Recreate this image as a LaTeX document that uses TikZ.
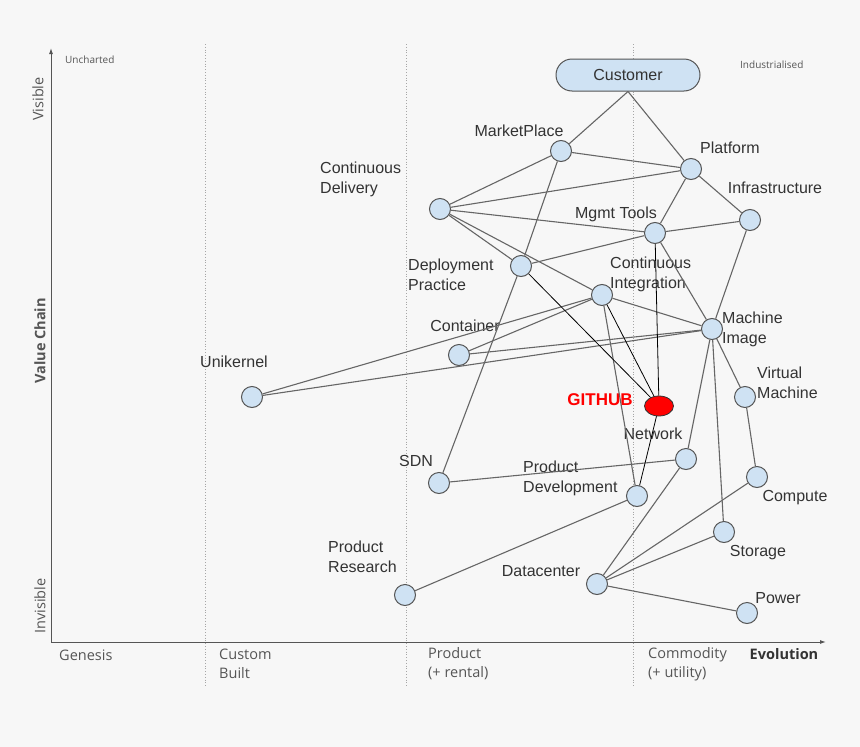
\documentclass[tikz,border=0pt]{standalone}
\usepackage{fontspec}
\setmainfont{Liberation Sans}
\newfontfamily\axisfont{Open Sans}
\usetikzlibrary{arrows.meta,positioning,shapes.geometric}
\definecolor{bgcol}{HTML}{F7F7F7}
\definecolor{nodefill}{HTML}{CFE2F3}
\definecolor{edgecol}{HTML}{666666}
\definecolor{txtcol}{HTML}{333333}
\definecolor{axiscol}{HTML}{555555}

\begin{document}
\begin{tikzpicture}[x=1pt,y=-1pt,
  comp/.style={circle,draw=axiscol,fill=nodefill,line width=1pt,minimum size=21pt,inner sep=0pt},
  lbl/.style={text=txtcol,font=\fontsize{16}{20}\selectfont,inner sep=0pt},
  lbll/.style={lbl,align=left,anchor=west},
  axlbl/.style={text=axiscol,font=\axisfont\fontsize{14.5}{19}\selectfont,inner sep=0pt,align=left},
  link/.style={draw=edgecol,line width=1.1pt},
  hub/.style={draw=black,line width=0.8pt},
  stage/.style={draw=gray!70,dotted,line width=0.8pt}]
  \fill[bgcol] (0,0) rectangle (860,747);
  \useasboundingbox (0,0) rectangle (860,747);

  % stages of evolution
  \draw[stage] (205,44) -- (205,686);
  \draw[stage] (406,44) -- (406,686);
  \draw[stage] (633,44) -- (633,686);

  % axes
  \draw[axiscol,line width=1pt,-{Latex[length=6pt,width=4pt]}] (51,642) -- (51,48);
  \draw[axiscol,line width=1pt,-{Latex[length=6pt,width=4pt]}] (51,642) -- (826,642);
  \node[axlbl,rotate=90] (vis) at (38,99) {Visible};
  \node[axlbl,rotate=90,font=\axisfont\bfseries\fontsize{14.5}{19}\selectfont] (vchain) at (40,341) {Value Chain};
  \node[axlbl,rotate=90] (invis) at (40,606) {Invisible};
  \node[axlbl,anchor=west] (gen) at (59,655) {Genesis};
  \node[axlbl,anchor=west] (cust) at (219,664) {Custom\\Built};
  \node[axlbl,anchor=west] (prod) at (428,664) {Product\\(+ rental)};
  \node[axlbl,anchor=west] (commod) at (648,664) {Commodity\\(+ utility)};
  \node[axlbl,font=\axisfont\bfseries\fontsize{14.5}{19}\selectfont,text=black!80] (evo) at (784,654) {Evolution};
  \node[axlbl,anchor=west,font=\axisfont\fontsize{10}{12}\selectfont] (unch) at (65,60) {Uncharted};
  \node[axlbl,anchor=west,font=\axisfont\fontsize{10}{12}\selectfont] (indus) at (740,65) {Industrialised};

  % components
  \node[draw=axiscol,fill=nodefill,line width=1pt,rounded corners=16pt,minimum width=144pt,minimum height=32pt,
        text=txtcol,font=\fontsize{16}{20}\selectfont] (customer) at (628,75) {Customer};
  \node[comp] (mkt) at (561,151) {};
  \node[comp] (plat) at (691,169) {};
  \node[comp] (cd) at (440,209) {};
  \node[comp] (infra) at (750,220) {};
  \node[comp] (mgmt) at (655,233) {};
  \node[comp] (dep) at (521,266) {};
  \node[comp] (ci) at (602,295) {};
  \node[comp] (mi) at (712,329) {};
  \node[comp] (cont) at (459,355) {};
  \node[comp] (uni) at (252,397) {};
  \node[comp] (vm) at (745,397) {};
  \node[ellipse,draw=black!80,fill=red,line width=0.8pt,minimum width=29pt,minimum height=20pt,inner sep=0pt] (gh) at (659,406) {};
  \node[comp] (net) at (686,459) {};
  \node[comp] (sdn) at (439,483) {};
  \node[comp] (pd) at (637,496) {};
  \node[comp] (comp) at (757,477) {};
  \node[comp] (stor) at (724,532) {};
  \node[comp] (pr) at (405,595) {};
  \node[comp] (dc) at (597,584) {};
  \node[comp] (power) at (747,613) {};

  % labels
  \node[lbl] (mktl) at (519,131) {MarketPlace};
  \node[lbl] (platl) at (730,148) {Platform};
  \node[lbll] (cdl) at (320,179) {Continuous\\Delivery};
  \node[lbl] (infral) at (775,188) {Infrastructure};
  \node[lbl] (mgmtl) at (616,214) {Mgmt Tools};
  \node[lbll] (depl) at (408,275) {Deployment\\Practice};
  \node[lbll] (cil) at (610,274) {Continuous\\Integration};
  \node[lbll] (mil) at (722,329) {Machine\\Image};
  \node[lbl] (contl) at (465,326) {Container};
  \node[lbl] (unil) at (234,362) {Unikernel};
  \node[lbll] (vml) at (757,383) {Virtual\\Machine};
  \node[lbl,text=red,font=\bfseries\fontsize{17}{20}\selectfont] (ghl) at (600,400) {GITHUB};
  \node[lbl] (netl) at (653,434) {Network};
  \node[lbl] (sdnl) at (416,461) {SDN};
  \node[lbll] (pdl) at (523,478) {Product\\Development};
  \node[lbl] (compl) at (795,498) {Compute};
  \node[lbl] (storl) at (758,553) {Storage};
  \node[lbll] (prl) at (328,557) {Product\\Research};
  \node[lbl] (dcl) at (541,571) {Datacenter};
  \node[lbl] (powerl) at (778,598) {Power};

  % value chain links
  \draw[link] (customer.south) -- (mkt);
  \draw[link] (customer.south) -- (plat);
  \foreach \a/\b in {mkt/plat, mkt/cd, mkt/dep, dep/sdn, plat/cd, plat/infra, plat/mgmt,
                     cd/mgmt, cd/dep, cd/ci, infra/mgmt, infra/mi, mgmt/dep, mgmt/mi,
                     ci/mi, ci/cont, ci/uni, ci/pd, cont/mi, uni/mi, mi/vm, mi/net, mi/stor,
                     vm/comp, net/sdn, net/dc, comp/dc, stor/dc, pd/pr, dc/power}
    \draw[link] (\a) -- (\b);
  \foreach \a in {mgmt, dep, ci, pd}
    \draw[hub] (\a) -- (gh);
\end{tikzpicture}
\end{document}
